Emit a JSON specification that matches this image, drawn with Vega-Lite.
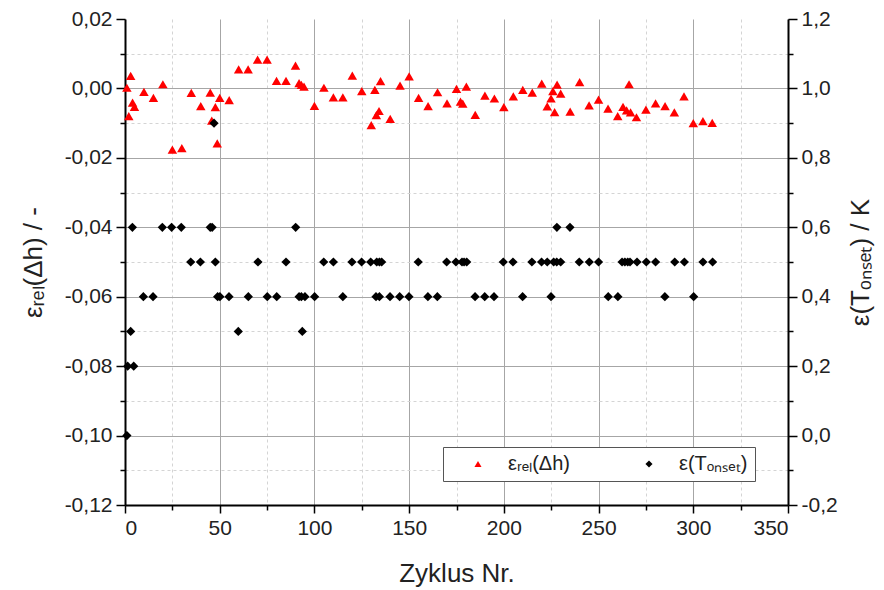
{
  "$schema": "https://vega.github.io/schema/vega-lite/v6.json",
  "width": 663,
  "height": 486,
  "autosize": {"type": "none"},
  "padding": {"left": 125, "top": 19, "right": 96, "bottom": 85},
  "config": {
    "locale": {"number": {"decimal": ",", "thousands": ".", "grouping": [3], "currency": ["", " €"], "minus": "-"}},
    "view": {"stroke": null},
    "font": "Liberation Sans",
    "axis": {
      "labelFont": "Liberation Sans",
      "titleFont": "Liberation Sans",
      "labelFontSize": 21,
      "titleFontSize": 26,
      "titleFontWeight": "normal",
      "labelColor": "#222222",
      "titleColor": "#222222",
      "domainColor": "#000000",
      "domainWidth": 2,
      "tickColor": "#000000",
      "tickWidth": 1.5,
      "labelPadding": 4
    },
    "legend": {
      "labelFont": "Liberation Sans",
      "labelFontSize": 20,
      "labelColor": "#222222",
      "strokeColor": "#555555",
      "fillColor": "#ffffff",
      "padding": 7,
      "symbolOffset": 18,
      "labelOffset": 20,
      "columnPadding": 51,
      "symbolSize": 50,
      "labelLimit": 300
    }
  },
  "datasets": {
    "points": [
      {"cycle": 1, "value": 0.0002, "series": "εᵣₑₗ(Δh)"},
      {"cycle": 2, "value": -0.008, "series": "εᵣₑₗ(Δh)"},
      {"cycle": 3, "value": 0.0036, "series": "εᵣₑₗ(Δh)"},
      {"cycle": 4, "value": -0.0041, "series": "εᵣₑₗ(Δh)"},
      {"cycle": 5, "value": -0.0053, "series": "εᵣₑₗ(Δh)"},
      {"cycle": 10, "value": -0.001, "series": "εᵣₑₗ(Δh)"},
      {"cycle": 15, "value": -0.0027, "series": "εᵣₑₗ(Δh)"},
      {"cycle": 20, "value": 0.0012, "series": "εᵣₑₗ(Δh)"},
      {"cycle": 25, "value": -0.0176, "series": "εᵣₑₗ(Δh)"},
      {"cycle": 30, "value": -0.0172, "series": "εᵣₑₗ(Δh)"},
      {"cycle": 35, "value": -0.0013, "series": "εᵣₑₗ(Δh)"},
      {"cycle": 40, "value": -0.0051, "series": "εᵣₑₗ(Δh)"},
      {"cycle": 45, "value": -0.0012, "series": "εᵣₑₗ(Δh)"},
      {"cycle": 45.8, "value": -0.0093, "series": "εᵣₑₗ(Δh)"},
      {"cycle": 47.7, "value": -0.0054, "series": "εᵣₑₗ(Δh)"},
      {"cycle": 48.7, "value": -0.0158, "series": "εᵣₑₗ(Δh)"},
      {"cycle": 50, "value": -0.0027, "series": "εᵣₑₗ(Δh)"},
      {"cycle": 55, "value": -0.0034, "series": "εᵣₑₗ(Δh)"},
      {"cycle": 60, "value": 0.0055, "series": "εᵣₑₗ(Δh)"},
      {"cycle": 65, "value": 0.0055, "series": "εᵣₑₗ(Δh)"},
      {"cycle": 70, "value": 0.0083, "series": "εᵣₑₗ(Δh)"},
      {"cycle": 75, "value": 0.0083, "series": "εᵣₑₗ(Δh)"},
      {"cycle": 80, "value": 0.0022, "series": "εᵣₑₗ(Δh)"},
      {"cycle": 85, "value": 0.0022, "series": "εᵣₑₗ(Δh)"},
      {"cycle": 90, "value": 0.0066, "series": "εᵣₑₗ(Δh)"},
      {"cycle": 91.9, "value": 0.0015, "series": "εᵣₑₗ(Δh)"},
      {"cycle": 93.1, "value": 0.001, "series": "εᵣₑₗ(Δh)"},
      {"cycle": 94.5, "value": 0.0005, "series": "εᵣₑₗ(Δh)"},
      {"cycle": 100, "value": -0.005, "series": "εᵣₑₗ(Δh)"},
      {"cycle": 105, "value": 0.0002, "series": "εᵣₑₗ(Δh)"},
      {"cycle": 110, "value": -0.0026, "series": "εᵣₑₗ(Δh)"},
      {"cycle": 115, "value": -0.0026, "series": "εᵣₑₗ(Δh)"},
      {"cycle": 120, "value": 0.0037, "series": "εᵣₑₗ(Δh)"},
      {"cycle": 125, "value": -0.0008, "series": "εᵣₑₗ(Δh)"},
      {"cycle": 130, "value": -0.0106, "series": "εᵣₑₗ(Δh)"},
      {"cycle": 131.9, "value": -0.0004, "series": "εᵣₑₗ(Δh)"},
      {"cycle": 132.7, "value": -0.0077, "series": "εᵣₑₗ(Δh)"},
      {"cycle": 134.1, "value": -0.0065, "series": "εᵣₑₗ(Δh)"},
      {"cycle": 134.9, "value": 0.0021, "series": "εᵣₑₗ(Δh)"},
      {"cycle": 140, "value": -0.0088, "series": "εᵣₑₗ(Δh)"},
      {"cycle": 145.2, "value": 0.0008, "series": "εᵣₑₗ(Δh)"},
      {"cycle": 150, "value": 0.0035, "series": "εᵣₑₗ(Δh)"},
      {"cycle": 155, "value": -0.0027, "series": "εᵣₑₗ(Δh)"},
      {"cycle": 160, "value": -0.0051, "series": "εᵣₑₗ(Δh)"},
      {"cycle": 165, "value": -0.0011, "series": "εᵣₑₗ(Δh)"},
      {"cycle": 170, "value": -0.0043, "series": "εᵣₑₗ(Δh)"},
      {"cycle": 175, "value": -0.0001, "series": "εᵣₑₗ(Δh)"},
      {"cycle": 177.1, "value": -0.0038, "series": "εᵣₑₗ(Δh)"},
      {"cycle": 178.3, "value": -0.0044, "series": "εᵣₑₗ(Δh)"},
      {"cycle": 180.2, "value": 0.0005, "series": "εᵣₑₗ(Δh)"},
      {"cycle": 184.9, "value": -0.0076, "series": "εᵣₑₗ(Δh)"},
      {"cycle": 190, "value": -0.0021, "series": "εᵣₑₗ(Δh)"},
      {"cycle": 195, "value": -0.0029, "series": "εᵣₑₗ(Δh)"},
      {"cycle": 200, "value": -0.0054, "series": "εᵣₑₗ(Δh)"},
      {"cycle": 205, "value": -0.0023, "series": "εᵣₑₗ(Δh)"},
      {"cycle": 210, "value": -0.0004, "series": "εᵣₑₗ(Δh)"},
      {"cycle": 215, "value": -0.0012, "series": "εᵣₑₗ(Δh)"},
      {"cycle": 220, "value": 0.0014, "series": "εᵣₑₗ(Δh)"},
      {"cycle": 222.9, "value": -0.0052, "series": "εᵣₑₗ(Δh)"},
      {"cycle": 224.9, "value": -0.0029, "series": "εᵣₑₗ(Δh)"},
      {"cycle": 225.9, "value": -0.0008, "series": "εᵣₑₗ(Δh)"},
      {"cycle": 226.8, "value": -0.0068, "series": "εᵣₑₗ(Δh)"},
      {"cycle": 228.1, "value": 0.0011, "series": "εᵣₑₗ(Δh)"},
      {"cycle": 230, "value": -0.0015, "series": "εᵣₑₗ(Δh)"},
      {"cycle": 235, "value": -0.0067, "series": "εᵣₑₗ(Δh)"},
      {"cycle": 240, "value": 0.0018, "series": "εᵣₑₗ(Δh)"},
      {"cycle": 245, "value": -0.0049, "series": "εᵣₑₗ(Δh)"},
      {"cycle": 250, "value": -0.0032, "series": "εᵣₑₗ(Δh)"},
      {"cycle": 255, "value": -0.0058, "series": "εᵣₑₗ(Δh)"},
      {"cycle": 260.1, "value": -0.008, "series": "εᵣₑₗ(Δh)"},
      {"cycle": 262.9, "value": -0.0053, "series": "εᵣₑₗ(Δh)"},
      {"cycle": 264.8, "value": -0.0063, "series": "εᵣₑₗ(Δh)"},
      {"cycle": 266.1, "value": 0.0012, "series": "εᵣₑₗ(Δh)"},
      {"cycle": 266.9, "value": -0.0069, "series": "εᵣₑₗ(Δh)"},
      {"cycle": 270, "value": -0.0083, "series": "εᵣₑₗ(Δh)"},
      {"cycle": 275, "value": -0.0061, "series": "εᵣₑₗ(Δh)"},
      {"cycle": 280.1, "value": -0.0043, "series": "εᵣₑₗ(Δh)"},
      {"cycle": 285.1, "value": -0.0051, "series": "εᵣₑₗ(Δh)"},
      {"cycle": 290, "value": -0.0069, "series": "εᵣₑₗ(Δh)"},
      {"cycle": 295.1, "value": -0.0023, "series": "εᵣₑₗ(Δh)"},
      {"cycle": 300, "value": -0.01, "series": "εᵣₑₗ(Δh)"},
      {"cycle": 305.1, "value": -0.0094, "series": "εᵣₑₗ(Δh)"},
      {"cycle": 310, "value": -0.0099, "series": "εᵣₑₗ(Δh)"},

      {"cycle": 1, "value": 0.0, "series": "ε(Tₒₙₛₑₜ)"},
      {"cycle": 1.4, "value": 0.2, "series": "ε(Tₒₙₛₑₜ)"},
      {"cycle": 4.6, "value": 0.2, "series": "ε(Tₒₙₛₑₜ)"},
      {"cycle": 3, "value": 0.3, "series": "ε(Tₒₙₛₑₜ)"},
      {"cycle": 59.8, "value": 0.3, "series": "ε(Tₒₙₛₑₜ)"},
      {"cycle": 93.6, "value": 0.3, "series": "ε(Tₒₙₛₑₜ)"},
      {"cycle": 47, "value": 0.9, "series": "ε(Tₒₙₛₑₜ)"},
      {"cycle": 3.9, "value": 0.6, "series": "ε(Tₒₙₛₑₜ)"},
      {"cycle": 19.7, "value": 0.6, "series": "ε(Tₒₙₛₑₜ)"},
      {"cycle": 24.6, "value": 0.6, "series": "ε(Tₒₙₛₑₜ)"},
      {"cycle": 29.7, "value": 0.6, "series": "ε(Tₒₙₛₑₜ)"},
      {"cycle": 45, "value": 0.6, "series": "ε(Tₒₙₛₑₜ)"},
      {"cycle": 46, "value": 0.6, "series": "ε(Tₒₙₛₑₜ)"},
      {"cycle": 90.1, "value": 0.6, "series": "ε(Tₒₙₛₑₜ)"},
      {"cycle": 228, "value": 0.6, "series": "ε(Tₒₙₛₑₜ)"},
      {"cycle": 234.9, "value": 0.6, "series": "ε(Tₒₙₛₑₜ)"},
      {"cycle": 34.7, "value": 0.5, "series": "ε(Tₒₙₛₑₜ)"},
      {"cycle": 39.8, "value": 0.5, "series": "ε(Tₒₙₛₑₜ)"},
      {"cycle": 47.7, "value": 0.5, "series": "ε(Tₒₙₛₑₜ)"},
      {"cycle": 70.2, "value": 0.5, "series": "ε(Tₒₙₛₑₜ)"},
      {"cycle": 85, "value": 0.5, "series": "ε(Tₒₙₛₑₜ)"},
      {"cycle": 104.9, "value": 0.5, "series": "ε(Tₒₙₛₑₜ)"},
      {"cycle": 110, "value": 0.5, "series": "ε(Tₒₙₛₑₜ)"},
      {"cycle": 119.8, "value": 0.5, "series": "ε(Tₒₙₛₑₜ)"},
      {"cycle": 124.9, "value": 0.5, "series": "ε(Tₒₙₛₑₜ)"},
      {"cycle": 129.7, "value": 0.5, "series": "ε(Tₒₙₛₑₜ)"},
      {"cycle": 132.9, "value": 0.5, "series": "ε(Tₒₙₛₑₜ)"},
      {"cycle": 134.3, "value": 0.5, "series": "ε(Tₒₙₛₑₜ)"},
      {"cycle": 135.5, "value": 0.5, "series": "ε(Tₒₙₛₑₜ)"},
      {"cycle": 154.8, "value": 0.5, "series": "ε(Tₒₙₛₑₜ)"},
      {"cycle": 169.8, "value": 0.5, "series": "ε(Tₒₙₛₑₜ)"},
      {"cycle": 174.7, "value": 0.5, "series": "ε(Tₒₙₛₑₜ)"},
      {"cycle": 177.9, "value": 0.5, "series": "ε(Tₒₙₛₑₜ)"},
      {"cycle": 179, "value": 0.5, "series": "ε(Tₒₙₛₑₜ)"},
      {"cycle": 180.4, "value": 0.5, "series": "ε(Tₒₙₛₑₜ)"},
      {"cycle": 199.7, "value": 0.5, "series": "ε(Tₒₙₛₑₜ)"},
      {"cycle": 204.8, "value": 0.5, "series": "ε(Tₒₙₛₑₜ)"},
      {"cycle": 214.8, "value": 0.5, "series": "ε(Tₒₙₛₑₜ)"},
      {"cycle": 219.9, "value": 0.5, "series": "ε(Tₒₙₛₑₜ)"},
      {"cycle": 222.9, "value": 0.5, "series": "ε(Tₒₙₛₑₜ)"},
      {"cycle": 226.3, "value": 0.5, "series": "ε(Tₒₙₛₑₜ)"},
      {"cycle": 227.9, "value": 0.5, "series": "ε(Tₒₙₛₑₜ)"},
      {"cycle": 230, "value": 0.5, "series": "ε(Tₒₙₛₑₜ)"},
      {"cycle": 239.8, "value": 0.5, "series": "ε(Tₒₙₛₑₜ)"},
      {"cycle": 245.1, "value": 0.5, "series": "ε(Tₒₙₛₑₜ)"},
      {"cycle": 250, "value": 0.5, "series": "ε(Tₒₙₛₑₜ)"},
      {"cycle": 262.4, "value": 0.5, "series": "ε(Tₒₙₛₑₜ)"},
      {"cycle": 263.9, "value": 0.5, "series": "ε(Tₒₙₛₑₜ)"},
      {"cycle": 265.4, "value": 0.5, "series": "ε(Tₒₙₛₑₜ)"},
      {"cycle": 266.6, "value": 0.5, "series": "ε(Tₒₙₛₑₜ)"},
      {"cycle": 270.3, "value": 0.5, "series": "ε(Tₒₙₛₑₜ)"},
      {"cycle": 275.2, "value": 0.5, "series": "ε(Tₒₙₛₑₜ)"},
      {"cycle": 280.1, "value": 0.5, "series": "ε(Tₒₙₛₑₜ)"},
      {"cycle": 290.2, "value": 0.5, "series": "ε(Tₒₙₛₑₜ)"},
      {"cycle": 295.3, "value": 0.5, "series": "ε(Tₒₙₛₑₜ)"},
      {"cycle": 305.1, "value": 0.5, "series": "ε(Tₒₙₛₑₜ)"},
      {"cycle": 310.2, "value": 0.5, "series": "ε(Tₒₙₛₑₜ)"},
      {"cycle": 9.7, "value": 0.4, "series": "ε(Tₒₙₛₑₜ)"},
      {"cycle": 14.8, "value": 0.4, "series": "ε(Tₒₙₛₑₜ)"},
      {"cycle": 48.9, "value": 0.4, "series": "ε(Tₒₙₛₑₜ)"},
      {"cycle": 50.1, "value": 0.4, "series": "ε(Tₒₙₛₑₜ)"},
      {"cycle": 54.9, "value": 0.4, "series": "ε(Tₒₙₛₑₜ)"},
      {"cycle": 65.1, "value": 0.4, "series": "ε(Tₒₙₛₑₜ)"},
      {"cycle": 75.1, "value": 0.4, "series": "ε(Tₒₙₛₑₜ)"},
      {"cycle": 80.1, "value": 0.4, "series": "ε(Tₒₙₛₑₜ)"},
      {"cycle": 91.9, "value": 0.4, "series": "ε(Tₒₙₛₑₜ)"},
      {"cycle": 93.1, "value": 0.4, "series": "ε(Tₒₙₛₑₜ)"},
      {"cycle": 95, "value": 0.4, "series": "ε(Tₒₙₛₑₜ)"},
      {"cycle": 100.1, "value": 0.4, "series": "ε(Tₒₙₛₑₜ)"},
      {"cycle": 115, "value": 0.4, "series": "ε(Tₒₙₛₑₜ)"},
      {"cycle": 132.5, "value": 0.4, "series": "ε(Tₒₙₛₑₜ)"},
      {"cycle": 134.3, "value": 0.4, "series": "ε(Tₒₙₛₑₜ)"},
      {"cycle": 139.9, "value": 0.4, "series": "ε(Tₒₙₛₑₜ)"},
      {"cycle": 145, "value": 0.4, "series": "ε(Tₒₙₛₑₜ)"},
      {"cycle": 149.9, "value": 0.4, "series": "ε(Tₒₙₛₑₜ)"},
      {"cycle": 159.9, "value": 0.4, "series": "ε(Tₒₙₛₑₜ)"},
      {"cycle": 164.9, "value": 0.4, "series": "ε(Tₒₙₛₑₜ)"},
      {"cycle": 184.8, "value": 0.4, "series": "ε(Tₒₙₛₑₜ)"},
      {"cycle": 189.9, "value": 0.4, "series": "ε(Tₒₙₛₑₜ)"},
      {"cycle": 194.8, "value": 0.4, "series": "ε(Tₒₙₛₑₜ)"},
      {"cycle": 209.9, "value": 0.4, "series": "ε(Tₒₙₛₑₜ)"},
      {"cycle": 224.9, "value": 0.4, "series": "ε(Tₒₙₛₑₜ)"},
      {"cycle": 255.1, "value": 0.4, "series": "ε(Tₒₙₛₑₜ)"},
      {"cycle": 260.2, "value": 0.4, "series": "ε(Tₒₙₛₑₜ)"},
      {"cycle": 285, "value": 0.4, "series": "ε(Tₒₙₛₑₜ)"},
      {"cycle": 300.2, "value": 0.4, "series": "ε(Tₒₙₛₑₜ)"}
    ]
  },
  "data": {"name": "points"},
  "encoding": {
    "x": {
      "field": "cycle",
      "type": "quantitative",
      "scale": {"domain": [0, 350], "nice": false, "zero": false},
      "axis": {
        "title": "Zyklus Nr.",
        "values": [0, 25, 50, 75, 100, 125, 150, 175, 200, 225, 250, 275, 300, 325, 350],
        "format": "d",
        "labelExpr": "datum.value % 50 === 0 ? datum.label : ''",
        "tickSize": {"condition": {"test": "datum.value % 50 === 0", "value": 8}, "value": 5},
        "grid": true,
        "gridColor": {"condition": {"test": "datum.value % 50 === 0", "value": "#a6a6a6"}, "value": "#d4d4d4"},
        "gridDash": {"condition": {"test": "datum.value % 50 === 0", "value": []}, "value": [3, 3]},
        "gridWidth": 1,
        "titlePadding": 22
      }
    }
  },
  "layer": [
    {
      "transform": [{"filter": {"field": "series", "equal": "εᵣₑₗ(Δh)"}}],
      "mark": {"type": "point", "filled": true, "opacity": 1, "size": 90},
      "encoding": {
        "y": {
          "field": "value",
          "type": "quantitative",
          "scale": {"domain": [-0.12, 0.02], "nice": false, "zero": false},
          "axis": {
            "orient": "left",
            "title": "εᵣₑₗ(Δh) / -",
            "values": [-0.12, -0.11, -0.1, -0.09, -0.08, -0.07, -0.06, -0.05, -0.04, -0.03, -0.02, -0.01, 0, 0.01, 0.02],
            "format": ".2f",
            "labelExpr": "abs(round(datum.value * 100)) % 2 === 0 ? datum.label : ''",
            "tickSize": {"condition": {"test": "abs(round(datum.value * 100)) % 2 === 0", "value": 9}, "value": 5},
            "grid": true,
            "gridColor": {"condition": {"test": "abs(round(datum.value * 100)) % 2 === 0", "value": "#a6a6a6"}, "value": "#d4d4d4"},
            "gridDash": {"condition": {"test": "abs(round(datum.value * 100)) % 2 === 0", "value": []}, "value": [3, 3]},
            "gridOpacity": {"condition": {"test": "round(datum.value * 100) === 2", "value": 0}, "value": 1},
            "titlePadding": 18
          }
        },
        "color": {
          "field": "series",
          "type": "nominal",
          "scale": {"domain": ["εᵣₑₗ(Δh)", "ε(Tₒₙₛₑₜ)"], "range": ["#ff0000", "#000000"]},
          "legend": {"title": null, "orient": "none", "legendX": 318, "legendY": 428, "direction": "horizontal"}
        },
        "shape": {
          "field": "series",
          "type": "nominal",
          "scale": {"domain": ["εᵣₑₗ(Δh)", "ε(Tₒₙₛₑₜ)"], "range": ["triangle-up", "diamond"]},
          "legend": {"title": null, "orient": "none", "legendX": 318, "legendY": 428, "direction": "horizontal"}
        }
      }
    },
    {
      "transform": [{"filter": {"field": "series", "equal": "ε(Tₒₙₛₑₜ)"}}],
      "mark": {"type": "point", "filled": true, "opacity": 1, "size": 85},
      "encoding": {
        "y": {
          "field": "value",
          "type": "quantitative",
          "scale": {"domain": [-0.2, 1.2], "nice": false, "zero": false},
          "axis": {
            "orient": "right",
            "title": "ε(Tₒₙₛₑₜ) / K",
            "titleAngle": 270,
            "titleBaseline": "top",
            "values": [-0.2, -0.1, 0, 0.1, 0.2, 0.3, 0.4, 0.5, 0.6, 0.7, 0.8, 0.9, 1.0, 1.1, 1.2],
            "format": ".1f",
            "labelExpr": "abs(round(datum.value * 10)) % 2 === 0 ? datum.label : ''",
            "tickSize": {"condition": {"test": "abs(round(datum.value * 10)) % 2 === 0", "value": 9}, "value": 5},
            "grid": false,
            "titlePadding": 10
          }
        },
        "color": {
          "field": "series",
          "type": "nominal",
          "scale": {"domain": ["εᵣₑₗ(Δh)", "ε(Tₒₙₛₑₜ)"], "range": ["#ff0000", "#000000"]},
          "legend": {"title": null, "orient": "none", "legendX": 318, "legendY": 428, "direction": "horizontal"}
        },
        "shape": {
          "field": "series",
          "type": "nominal",
          "scale": {"domain": ["εᵣₑₗ(Δh)", "ε(Tₒₙₛₑₜ)"], "range": ["triangle-up", "diamond"]},
          "legend": {"title": null, "orient": "none", "legendX": 318, "legendY": 428, "direction": "horizontal"}
        }
      }
    }
  ],
  "resolve": {"scale": {"y": "independent"}}
}
